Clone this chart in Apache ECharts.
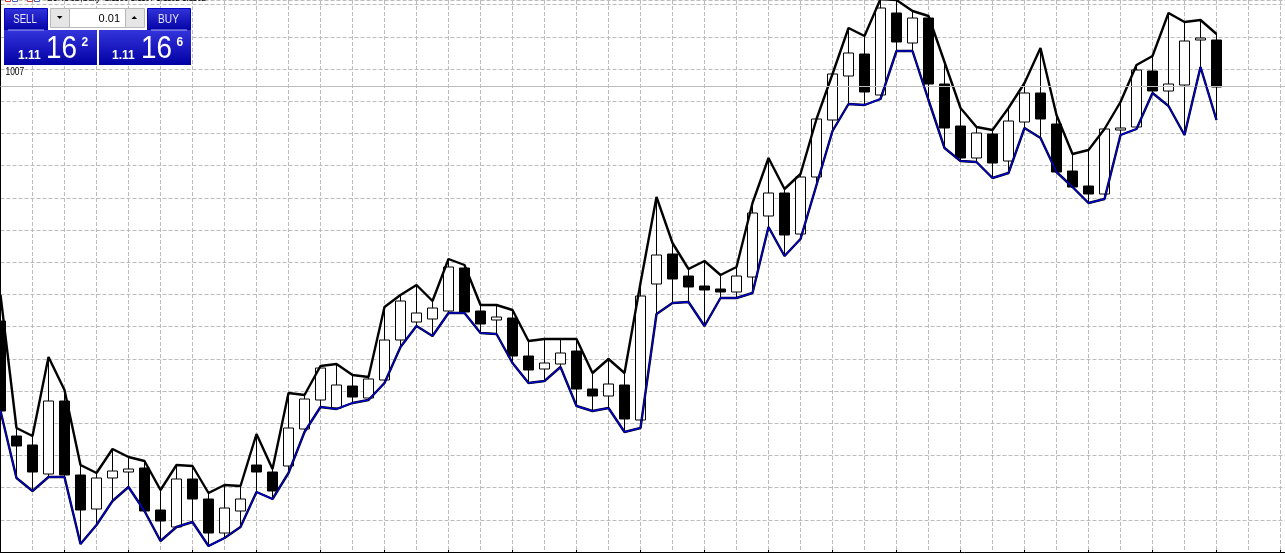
<!DOCTYPE html>
<html><head><meta charset="utf-8">
<style>html,body{margin:0;padding:0;background:#fff;overflow:hidden}#c{width:1285px;height:554px}</style>
<script src="https://cdn.jsdelivr.net/npm/echarts@6/dist/echarts.min.js"></script>
</head><body><div id="c"></div>
<script>
// Values are points above the chart floor (1 point per pixel of the terminal's price scale).
const opens=[231,116,107,78,151,77,43,74,80,84,42,25,73,53,19,41,87,80,86,123,152,144,166,154,172,212,230,233,241,284,241,232,234,196,183,188,201,163,156,167,132,268,298,276,266,263,260,275,336,359,318,375,432,476,498,457,539,509,534,468,426,394,418,391,430,459,428,381,366,358,422,425,481,461,467,512,512];
const closes=[141,106,80,151,77,42,74,81,83,41,31,73,53,19,44,53,80,61,124,153,184,167,155,173,212,251,239,244,285,240,228,235,196,182,189,199,163,156,168,133,256,297,273,265,262,260,276,339,359,317,375,433,478,499,460,544,510,534,468,424,394,419,389,431,459,433,380,365,358,423,424,482,461,468,511,514,465];
const highs=[257,124,116,195,162,87,79,103,95,91,62,87,86,59,67,66,118,83,159,157,186,188,177,175,245,257,267,251,293,287,247,247,242,211,213,213,213,179,193,179,269,355,309,283,291,277,285,349,394,363,378,433,478,524,516,553,552,541,536,490,444,425,422,444,469,504,437,398,402,423,450,487,496,539,530,532,518];
const lows=[141,74,61,75,75,8,27,51,65,41,11,25,30,6,14,25,60,53,79,120,145,143,149,152,169,205,226,216,239,239,219,218,189,169,171,185,146,141,144,120,124,238,249,250,226,254,254,259,325,296,313,367,421,448,447,453,501,501,452,404,391,390,374,379,424,414,380,365,349,353,417,423,459,446,417,485,432];
const slotCount=82;
const categories=Array.from({length:slotCount},(_,i)=>String(i));
const bidLevel=465.5;
const headerText='EURUSD,Daily  1.1159 1.1167 1.1152 1.1162';
const G='#bcbcbc';
const blue=new echarts.graphic.LinearGradient(0,0,0,1,[{offset:0,color:'#3434dc'},{offset:1,color:'#0000a4'}]);
const chart=echarts.init(document.getElementById('c'),null,{renderer:'canvas'});
const F='"Liberation Sans",sans-serif';
function txt(x,y,t,font,align,fill,scaleX){return {type:'text',z:100,x:x,y:y,scaleX:scaleX||1,style:{text:t,font:font,fill:fill||'#fff',align:align||'left',verticalAlign:'middle'}};}
function rect(x,y,w,h,fill,extra){return {type:'rect',z:99,shape:{x:x,y:y,width:w,height:h},style:Object.assign({fill:fill},extra||{})};}
const edge={stroke:'#0000c0',lineWidth:1};
const graphics=[
 rect(4.5,8.5,43,22,blue,edge), rect(147.5,8.5,43,22,blue,edge),
 rect(4,30,93,35,blue), rect(99,30,92,35,blue),
 rect(48,8,99,20,'#fff'),
 rect(50.5,8.5,19,19,'#e6e6e6',{stroke:'#b8b8b8',lineWidth:1}),
 rect(69.5,8.5,56,19,'#ffffff',{stroke:'#b8b8b8',lineWidth:1}),
 rect(125.5,8.5,19,19,'#e6e6e6',{stroke:'#b8b8b8',lineWidth:1}),
 {type:'polygon',z:101,shape:{points:[[57,16],[62.5,16],[59.7,19]]},style:{fill:'#000'}},
 {type:'polygon',z:101,shape:{points:[[131.5,19],[137,19],[134.3,16]]},style:{fill:'#000'}},
 rect(8,29.5,36,1,'#a8a8f0'), rect(151,29.5,36,1,'#a8a8f0'),
 rect(97,28,2,37,'#fff'),
 txt(25,19,'SELL','13px '+F,'center','#e6e6ff',0.74),
 txt(168.5,19,'BUY','13px '+F,'center','#e6e6ff',0.78),
 txt(120,18.5,'0.01','11px '+F,'right','#000'),
 txt(18,55.5,'1.11','bold 12px '+F,'left'),
 txt(46,49,'16','32px '+F,'left','#fff',0.87),
 txt(81.5,42.5,'2','bold 12px '+F,'left'),
 txt(112,55.5,'1.11','bold 12px '+F,'left'),
 txt(141,49,'16','32px '+F,'left','#fff',0.87),
 txt(176.5,42.5,'6','bold 12px '+F,'left'),
 txt(5.5,72.5,'1007','10px '+F,'left','#000',0.84),
 txt(47,-2.5,headerText,'11px '+F,'left','#000',0.72),
 rect(5.5,-2,5,3.5,'#fff',{stroke:'#d04040',lineWidth:1}), rect(12.5,-2,5,3.5,'#fff',{stroke:'#4060c0',lineWidth:1}),
 rect(27.5,-2,5,3.5,'#fff',{stroke:'#d04040',lineWidth:1}), rect(34.5,-2,5,3.5,'#fff',{stroke:'#4060c0',lineWidth:1})
];
chart.setOption({
 animation:false,backgroundColor:'#fff',
 grid:{left:0.5,top:0,width:1296,height:552,outerBoundsMode:'none'},
 tooltip:{show:false},
 xAxis:{type:'category',data:categories,boundaryGap:false,
  axisLine:{show:true,onZero:false,lineStyle:{color:'#000',width:1}},
  axisTick:{show:true,inside:true,length:2,interval:(i)=>i%4===0,lineStyle:{color:'#000'}},
  axisLabel:{show:false},
  splitLine:{show:true,interval:(i)=>i%2===0,lineStyle:{color:G,type:[4,2],width:1}}},
 yAxis:{type:'value',min:0,max:552,interval:32.2,
  axisLine:{show:true,lineStyle:{color:'#000',width:1}},axisTick:{show:false},axisLabel:{show:false},
  splitLine:{show:true,lineStyle:{color:G,type:[4,2],width:1}}},
 series:[
  {type:'candlestick',barWidth:10,z:3,
   data:opens.map((o,i)=>[o,closes[i],lows[i],highs[i]]),
   itemStyle:{color:'#ffffff',color0:'#000000',borderColor:'#000000',borderColor0:'#000000',borderWidth:1},
   markLine:{silent:true,symbol:'none',label:{show:false},animation:false,
    lineStyle:{color:G,type:'solid',width:1},data:[{yAxis:bidLevel}]}},
  {type:'line',z:4,data:highs,symbol:'none',showSymbol:false,lineStyle:{color:'#000000',width:2.4},itemStyle:{color:'#000'}},
  {type:'line',z:4,data:lows,symbol:'none',showSymbol:false,lineStyle:{color:'#000000',width:2.4},itemStyle:{color:'#000'}},
  {type:'line',z:5,data:lows,symbol:'none',showSymbol:false,lineStyle:{color:'#0000d0',width:1.4},itemStyle:{color:'#0000d0'}}
 ],
 graphic:{elements:graphics}
});
</script></body></html>
